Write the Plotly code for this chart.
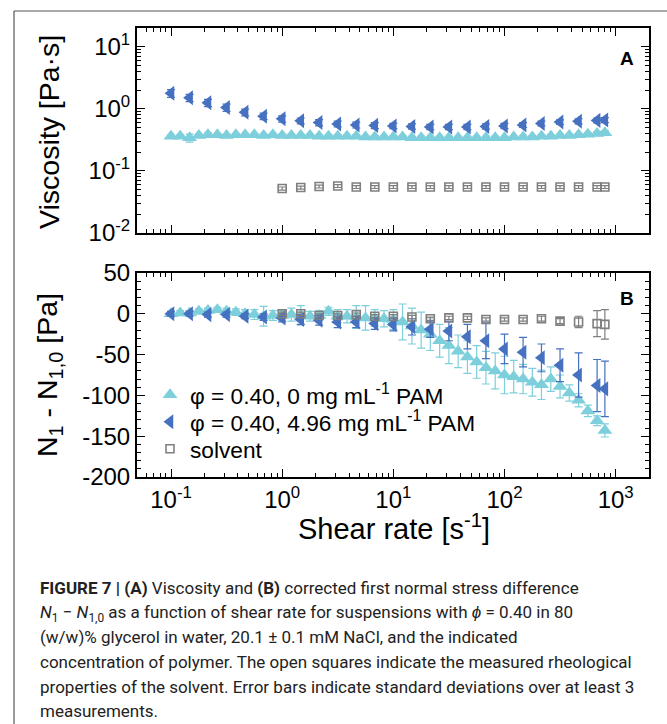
import plotly.graph_objects as go

# ---- shear rates [1/s] ----
rate_susp = [0.1, 0.121, 0.147, 0.178, 0.215, 0.261, 0.316, 0.383, 0.464, 0.562, 0.681, 0.825,
             1.0, 1.21, 1.47, 1.78, 2.15, 2.61, 3.16, 3.83, 4.64, 5.62, 6.81, 8.25,
             10, 12.1, 14.7, 17.8, 21.5, 26.1, 31.6, 38.3, 46.4, 56.2, 68.1, 82.5,
             100, 121, 147, 178, 215, 261, 316, 383, 464, 562, 681, 800]
rate_pam = [0.1, 0.147, 0.215, 0.316, 0.464, 0.681, 1.0, 1.47, 2.15, 3.16, 4.64, 6.81,
            10, 14.7, 21.5, 31.6, 46.4, 68.1, 100, 147, 215, 316, 464, 681, 800]
rate_solv = [1.0, 1.47, 2.15, 3.16, 4.64, 6.81, 10, 14.7, 21.5, 31.6, 46.4, 68.1,
             100, 147, 215, 316, 464, 681, 800]

# ---- (A) viscosity [Pa s] ----
visc_susp = [0.36, 0.36, 0.34, 0.37, 0.38, 0.38, 0.37, 0.38, 0.38, 0.38, 0.37, 0.38,
             0.37, 0.37, 0.37, 0.37, 0.36, 0.36, 0.36, 0.36, 0.36, 0.35, 0.35, 0.35,
             0.35, 0.35, 0.34, 0.34, 0.34, 0.34, 0.34, 0.34, 0.34, 0.34, 0.34, 0.34,
             0.34, 0.35, 0.35, 0.35, 0.36, 0.36, 0.37, 0.37, 0.38, 0.39, 0.40, 0.41]
visc_susp_err = [0.02, 0.02, 0.05, 0.02, 0.03, 0.02, 0.02, 0.02, 0.02, 0.02, 0.02, 0.02,
                 0.02, 0.02, 0.02, 0.02, 0.02, 0.02, 0.02, 0.02, 0.02, 0.02, 0.02, 0.02,
                 0.02, 0.02, 0.02, 0.02, 0.02, 0.02, 0.02, 0.02, 0.02, 0.02, 0.02, 0.02,
                 0.02, 0.02, 0.02, 0.02, 0.02, 0.02, 0.02, 0.02, 0.02, 0.02, 0.03, 0.03]
visc_pam = [1.78, 1.50, 1.25, 1.05, 0.88, 0.76, 0.69, 0.64, 0.60, 0.57, 0.55, 0.54,
            0.53, 0.52, 0.51, 0.51, 0.51, 0.52, 0.53, 0.55, 0.58, 0.61, 0.63, 0.65, 0.66]
visc_pam_err = [0.25, 0.20, 0.17, 0.14, 0.11, 0.09, 0.08, 0.07, 0.07, 0.06, 0.06, 0.06,
                0.05, 0.05, 0.05, 0.05, 0.05, 0.05, 0.05, 0.05, 0.05, 0.05, 0.06, 0.06, 0.06]
visc_solv = [0.052, 0.054, 0.056, 0.057, 0.055, 0.055, 0.055, 0.055, 0.055, 0.055,
             0.055, 0.055, 0.055, 0.055, 0.055, 0.055, 0.055, 0.055, 0.055]
visc_solv_err = [0.003] * 19

# ---- (B) corrected first normal stress difference [Pa] ----
n1_susp = [0, 1, 1, 3, 4, 5, 3, 2, 0, -1, -3, -2,
           -2, -1, -2, -3, -2, 3, -3, -3, -4, -5, -5, -6,
           -7, -10, -15, -20, -25, -33, -39, -46, -53, -59, -66, -70,
           -75, -77, -80, -84, -87, -80, -89, -97, -106, -119, -131, -143]
n1_susp_err = [3, 3, 3, 3, 3, 3, 4, 4, 5, 6, 12, 6,
               6, 8, 12, 6, 6, 5, 8, 8, 14, 15, 10, 10,
               12, 22, 22, 22, 20, 20, 22, 20, 20, 20, 20, 22,
               23, 20, 18, 17, 18, 15, 14, 10, 8, 7, 6, 8]
n1_pam = [0, 0, -1, -1, -3, -4, -5, -7, -8, -10, -10, -12,
          -13, -16, -19, -21, -28, -33, -43, -47, -54, -63, -75, -88, -92]
n1_pam_err = [3, 3, 3, 3, 3, 4, 5, 6, 6, 7, 7, 7,
              8, 10, 10, 12, 15, 22, 18, 18, 17, 20, 27, 32, 34]
n1_solv = [0, 0, -2, -2, -1, -3, -3, -4, -6, -5, -5, -7, -7, -7, -6, -9, -10, -12, -13]
n1_solv_err = [2, 2, 2, 2, 2, 2, 2, 2, 2, 2, 2, 2, 2, 2, 3, 3, 7, 16, 18]

legend_names = ["φ = 0.40, 0 mg mL<sup>-1</sup> PAM",
                "φ = 0.40, 4.96 mg mL<sup>-1</sup> PAM",
                "solvent"]

CYAN = "#7ccfdb"
BLUE = "#4670c0"
GREY = "#7f7f7f"
FONT = "Liberation Sans, Arial, Helvetica, sans-serif"

W, H = 667, 724
ML, MR, MT, MB = 137, 18, 28, 247
PW, PH = W - ML - MR, H - MT - MB


def px_x(px):
    return (px - ML) / PW


def px_y(py):
    return (H - MB - py) / PH


fig = go.Figure()


def add_series(x, y, err, color, symbol, size, name, xa, ya, legend=None, open_marker=False):
    if open_marker:
        marker = dict(symbol="square-open", size=size, color=color, line=dict(width=1.6, color=color))
    else:
        marker = dict(symbol=symbol, size=size, color=color)
    kw = dict(showlegend=legend is not None)
    if legend is not None:
        kw["legend"] = legend
    fig.add_trace(go.Scatter(
        x=x, y=y, mode="markers", name=name,
        xaxis=xa, yaxis=ya, marker=marker,
        error_y=dict(type="data", array=err, visible=True, color=color, thickness=1.2, width=4),
        **kw,
    ))


# panel A
add_series(rate_susp, visc_susp, visc_susp_err, CYAN, "triangle-up", 13, legend_names[0], "x", "y")
add_series(rate_pam, visc_pam, visc_pam_err, BLUE, "triangle-left", 13, legend_names[1], "x", "y")
add_series(rate_solv, visc_solv, visc_solv_err, GREY, "square-open", 8, legend_names[2], "x", "y",
           open_marker=True)
# panel B
add_series(rate_susp, n1_susp, n1_susp_err, CYAN, "triangle-up", 13, legend_names[0], "x2", "y2", "legend")
add_series(rate_pam, n1_pam, n1_pam_err, BLUE, "triangle-left", 13, legend_names[1], "x2", "y2", "legend2")
add_series(rate_solv, n1_solv, n1_solv_err, GREY, "square-open", 8, legend_names[2], "x2", "y2", "legend3",
           open_marker=True)

log_minor_x = [m * 10 ** e for e in range(-2, 3) for m in range(2, 10)]
log_minor_y = [m * 10 ** e for e in range(-3, 2) for m in range(2, 10)]

frame = dict(showline=True, linewidth=2, linecolor="black", mirror="allticks",
             ticks="inside", ticklen=8, tickwidth=1.4, tickcolor="black",
             showgrid=False, zeroline=False,
             tickfont=dict(family=FONT, size=24, color="black"))
minor_ticks = dict(ticks="inside", ticklen=4, tickwidth=1.2, tickcolor="black")

x_ticks = [0.1, 1, 10, 100, 1000]
x_text = ["10<sup>-1</sup>", "10<sup>0</sup>", "10<sup>1</sup>", "10<sup>2</sup>", "10<sup>3</sup>"]

domA = [px_y(233), 1.0]
domB = [0.0, px_y(273)]


def legend_box(row_y):
    return dict(x=px_x(150), y=px_y(row_y), xanchor="left", yanchor="middle",
                bgcolor="rgba(0,0,0,0)", font=dict(family=FONT, size=22.7, color="black"),
                itemwidth=30, borderwidth=0)


fig.update_layout(
    width=W, height=H,
    margin=dict(l=ML, r=MR, t=MT, b=MB),
    paper_bgcolor="white", plot_bgcolor="white",
    font=dict(family=FONT, color="black"),
    xaxis=dict(type="log", range=[-1.306, 3.30], domain=[0, 1], anchor="y",
               tickvals=x_ticks, showticklabels=False,
               minor=dict(tickmode="array", tickvals=log_minor_x, **minor_ticks),
               **frame),
    yaxis=dict(type="log", range=[-2, 1.30], domain=domA, anchor="x",
               tickvals=[0.01, 0.1, 1, 10],
               ticktext=["10<sup>-2</sup>", "10<sup>-1</sup>", "10<sup>0</sup>", "10<sup>1</sup>"],
               minor=dict(tickmode="array", tickvals=log_minor_y, **minor_ticks),
               **frame),
    xaxis2=dict(type="log", range=[-1.306, 3.30], domain=[0, 1], anchor="y2",
                tickvals=x_ticks, ticktext=x_text,
                minor=dict(tickmode="array", tickvals=log_minor_x, **minor_ticks),
                **frame),
    yaxis2=dict(range=[-200, 50], domain=domB, anchor="x2",
                tickvals=[-200, -150, -100, -50, 0, 50],
                ticktext=["-200", "-150", "-100", "-50", "0", "50"],
                minor=dict(dtick=10, **minor_ticks),
                **frame),
    legend=legend_box(395),
    legend2=legend_box(422),
    legend3=legend_box(449),
)

annotations = [
    dict(x=px_x(49), y=px_y(132), text="Viscosity [Pa·s]", textangle=-90,
         font=dict(family=FONT, size=28.5)),
    dict(x=px_x(49), y=px_y(375), text="N<sub>1</sub> - N<sub>1,0</sub> [Pa]", textangle=-90,
         font=dict(family=FONT, size=28.5)),
    dict(x=px_x(394), y=px_y(527), text="Shear rate [s<sup>-1</sup>]",
         font=dict(family=FONT, size=29)),
    dict(x=px_x(627), y=px_y(58), text="<b>A</b>", font=dict(family=FONT, size=19)),
    dict(x=px_x(627), y=px_y(298), text="<b>B</b>", font=dict(family=FONT, size=19)),
]
for a in annotations:
    a.update(xref="paper", yref="paper", showarrow=False, xanchor="center", yanchor="middle")

caption = [
    "<b>FIGURE 7 | (A)</b> Viscosity and <b>(B)</b> corrected first normal stress difference",
    "<i>N</i><sub>1</sub> − <i>N</i><sub>1,0</sub> as a function of shear rate for suspensions with <i>ϕ</i> = 0.40 in 80",
    "(w/w)% glycerol in water, 20.1 ± 0.1 mM NaCl, and the indicated",
    "concentration of polymer. The open squares indicate the measured rheological",
    "properties of the solvent. Error bars indicate standard deviations over at least 3",
    "measurements.",
]
cap_y = [588, 613, 637, 662, 687, 711]
CAP_FONT = "Roboto, Arial, sans-serif"
for line, yy in zip(caption, cap_y):
    annotations.append(dict(x=px_x(38), y=px_y(yy), xref="paper", yref="paper",
                            text=line, showarrow=False, xanchor="left", yanchor="middle",
                            font=dict(family=CAP_FONT, size=17, color="#222222")))
fig.update_layout(annotations=annotations)

# page frame (top and left rules)
fig.add_shape(type="line", xref="paper", yref="paper",
              x0=px_x(14), y0=px_y(11), x1=px_x(667), y1=px_y(11),
              line=dict(color="#555555", width=1.2))
fig.add_shape(type="line", xref="paper", yref="paper",
              x0=px_x(14), y0=px_y(11), x1=px_x(14), y1=px_y(724),
              line=dict(color="#555555", width=1.2))

fig.write_html("out.html")
